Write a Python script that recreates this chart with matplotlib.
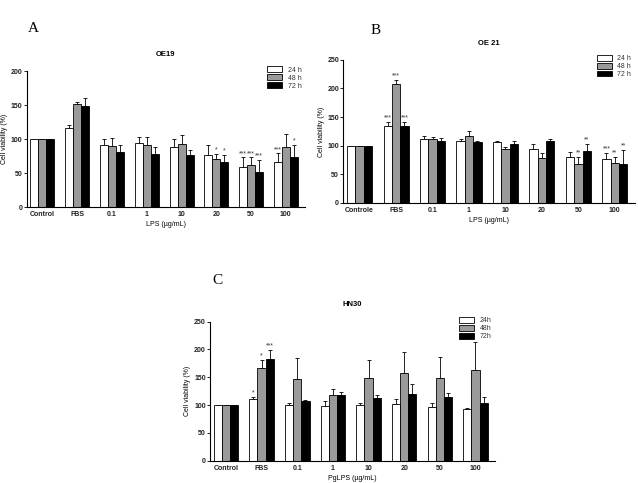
import numpy as np
import matplotlib
matplotlib.use('Agg')
import matplotlib.pyplot as plt

plt.rcParams['font.family'] = ['Liberation Sans', 'DejaVu Sans']
plt.rcParams['font.weight'] = 'bold'

# Panel A : OE19
cats_a = ['Control', 'FBS', '0.1', '1', '10', '20', '50', '100']
a_24 = [100, 116, 91, 94, 89, 77, 59, 66]
a_24_err = [0, 5, 9, 9, 11, 14, 14, 13]
a_48 = [100, 152, 89.5, 91, 93, 71, 62, 88.5]
a_48_err = [0, 2, 11.5, 12, 13, 7, 11, 19.5]
a_72 = [100, 149, 81, 78, 77, 66, 52, 73]
a_72_err = [0, 11, 11, 10, 7, 11, 17, 19]
a_stars = {(5, 1): '*', (5, 2): '*', (6, 0): '***', (6, 1): '***', (6, 2): '***',
           (7, 0): '***', (7, 2): '*'}

# Panel B : OE 21
cats_b = ['Controle', 'FBS', '0.1', '1', '10', '20', '50', '100']
b_24 = [100, 134, 112, 108, 106, 94, 81, 76]
b_24_err = [0, 7, 5, 4, 3, 9, 8, 11]
b_48 = [100, 208, 112, 117, 95, 78, 68, 69]
b_48_err = [0, 7, 4, 9, 3, 10, 13, 12]
b_72 = [100, 135, 109, 106, 103.5, 107.5, 90, 68]
b_72_err = [0, 7, 4, 2, 4.5, 4.5, 13, 25]
b_stars = {(1, 0): '***', (1, 1): '***', (1, 2): '***', (6, 1): '**', (6, 2): '**',
           (7, 0): '***', (7, 1): '**', (7, 2): '**'}

# Panel C : HN30
cats_c = ['Control', 'FBS', '0.1', '1', '10', '20', '50', '100']
c_24 = [100, 111, 100.5, 98, 100.5, 102, 97, 93.5]
c_24_err = [0, 4, 3, 9, 3, 9, 7, 1]
c_48 = [100, 167, 147.5, 118.5, 149, 157, 149, 163]
c_48_err = [0, 14, 38, 10, 32, 39, 38, 50]
c_72 = [100, 183, 107, 119, 112, 120.5, 114.5, 104]
c_72_err = [1, 16, 2, 5, 7, 18, 7.5, 10.5]
c_stars = {(1, 0): '*', (1, 1): '*', (1, 2): '***'}

colors = ['white', '#9a9a9a', 'black']


def panel(rect, cats, series, errs, stars, ymax, title, xlabel, labels):
    ax = fig.add_axes(rect)
    x = np.arange(len(cats))
    w = 0.23
    for i in range(3):
        pos = x + (i - 1) * w
        ax.bar(pos, series[i], w, color=colors[i], edgecolor='black', linewidth=0.6,
               label=labels[i], zorder=2)
        ax.errorbar(pos, series[i], yerr=[np.zeros(len(cats)), errs[i]], fmt='none',
                    ecolor='black', elinewidth=0.6, capsize=1.5, capthick=0.6, zorder=1)
    for (g, i), s in stars.items():
        top = series[i][g] + errs[i][g]
        ax.text(x[g] + (i - 1) * w, top + ymax * 0.003, s, ha='center', va='bottom',
                fontsize=5, fontweight='normal', color='#333333')
    ax.set_xlim(-0.45, len(cats) - 0.45)
    ax.set_ylim(0, ymax)
    ax.set_yticks(np.arange(0, ymax + 1, 50))
    ax.set_xticks(x)
    ax.set_xticklabels(cats)
    ax.tick_params(axis='x', length=0, labelsize=5, pad=3, labelcolor='#222222')
    ax.tick_params(axis='y', length=2, width=0.6, labelsize=5, pad=1, labelcolor='#222222')
    for s in ['top', 'right']:
        ax.spines[s].set_visible(False)
    for s in ['left', 'bottom']:
        ax.spines[s].set_linewidth(0.8)
    ax.set_title(title, fontsize=5.5, fontweight='bold', pad=11)
    ax.set_xlabel(xlabel, fontsize=5, labelpad=2)
    ax.set_ylabel('Cell viability (%)', fontsize=5, labelpad=2)
    leg = ax.legend(loc='upper right', bbox_to_anchor=(1.0, 1.06), frameon=False,
                    prop={'size': 5, 'weight': 'normal'},
                    handlelength=2.2, handleheight=0.9, labelspacing=0.1, borderpad=0)
    for t in leg.get_texts():
        t.set_color('#333333')
    return ax


fig = plt.figure(figsize=(6.38, 4.83), dpi=100)

panel([0.042, 0.571, 0.436, 0.282], cats_a, [a_24, a_48, a_72],
      [a_24_err, a_48_err, a_72_err], a_stars, 200, 'OE19', 'LPS (µg/mL)',
      ['24 h', '48 h', '72 h'])
panel([0.538, 0.580, 0.457, 0.296], cats_b, [b_24, b_48, b_72],
      [b_24_err, b_48_err, b_72_err], b_stars, 250, 'OE 21', 'LPS (µg/mL)',
      ['24 h', '48 h', '72 h'])
panel([0.329, 0.046, 0.447, 0.288], cats_c, [c_24, c_48, c_72],
      [c_24_err, c_48_err, c_72_err], c_stars, 250, 'HN30', 'PgLPS (µg/mL)',
      ['24h', '48h', '72h'])

for lbl, px, py in [('A', 28, 29), ('B', 371, 30), ('C', 212, 281)]:
    fig.text(px / 638, 1 - py / 483, lbl, fontsize=11, family='Liberation Serif',
             fontweight='normal', ha='left', va='center')

fig.savefig('out.png', dpi=100)
